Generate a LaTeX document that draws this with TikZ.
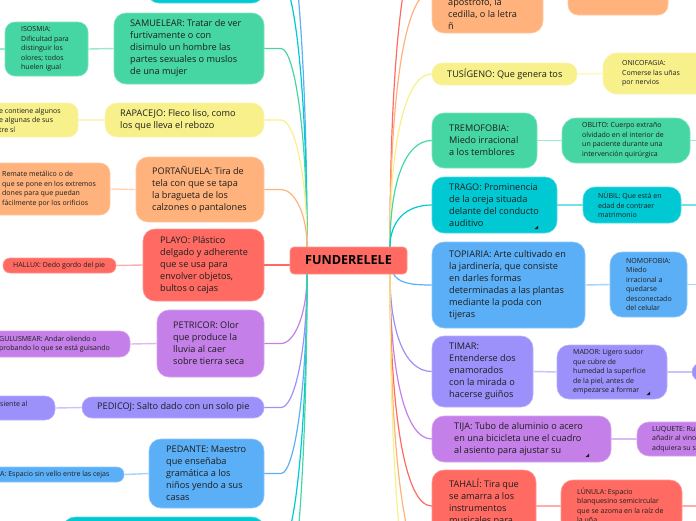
\documentclass[tikz,border=0pt]{standalone}
\usepackage{fontspec}
\setmainfont{Open Sans}
\definecolor{cred}{HTML}{FF6A62}
\definecolor{corange}{HTML}{FFB27B}
\definecolor{cyellow}{HTML}{F8F08A}
\definecolor{cgreen}{HTML}{45D6A4}
\definecolor{ccyan}{HTML}{00C9D3}
\definecolor{cblue}{HTML}{5BAFF6}
\definecolor{clav}{HTML}{9C90FA}
\definecolor{cpurple}{HTML}{C47FE8}
\definecolor{ink}{HTML}{1E1E1E}
\newcommand\mfont{\fontsize{9.15}{12}\selectfont}
\newcommand\sfont{\fontsize{7}{9.5}\selectfont}
\tikzset{
  nb/.style={fill=#1, draw=#1!70!white, line width=0.6pt},
  mbox/.style={rectangle, rounded corners=12pt, inner sep=0pt},
  sbox/.style={rectangle, rounded corners=10pt, inner sep=0pt},
  pill/.style={rectangle, rounded corners=7pt, inner sep=0pt},
  mtxt/.style={font=\mfont, text=ink, align=left, inner sep=0pt, anchor=west},
  stxt/.style={font=\sfont, text=ink, align=left, inner sep=0pt, anchor=west},
  lk/.style={draw=#1, line width=1.2pt},
  sk/.style={draw=#1!55!white, line width=1.4pt},
  grip/.style={fill=ink},
}
\begin{document}
\begin{tikzpicture}[x=1pt,y=-1pt]
\useasboundingbox (0,0) rectangle (696,520);
% ---------- boxes, left ----------
\node[mbox, nb=ccyan, minimum width=117pt, minimum height=46pt] (cyantl) at (205.5,-20) {};
\node[mbox, nb=cgreen, minimum width=150pt, minimum height=71pt] (samu) at (189,48.5) {};
\node[mbox, nb=cyellow, minimum width=159pt, minimum height=34pt] (rapa) at (184.5,120) {};
\node[mbox, nb=corange, minimum width=128pt, minimum height=65pt] (port) at (200,189.5) {};
\node[mbox, nb=cred, minimum width=121pt, minimum height=72pt] (playo) at (203.5,265) {};
\node[mbox, nb=cpurple, minimum width=107pt, minimum height=67pt] (petr) at (210.5,343.5) {};
\node[mbox, rounded corners=10pt, nb=clav, minimum width=182pt, minimum height=21pt] (pedi) at (173,407.5) {};
\node[mbox, nb=cblue, minimum width=115pt, minimum height=69pt] (peda) at (206.5,473.5) {};
\node[mbox, nb=ccyan, minimum width=201pt, minimum height=58pt] (cyanbl) at (163.5,546) {};
% children left
\node[sbox, nb=cgreen, minimum width=83pt, minimum height=54pt] (isos) at (46.5,49) {};
\node[sbox, nb=cyellow, minimum width=95pt, minimum height=34pt] (rapac) at (30.5,120) {};
\node[sbox, nb=corange, minimum width=130pt, minimum height=52pt] (portc) at (45,189) {};
\node[pill, nb=cred, minimum width=113pt, minimum height=15pt] (hallux) at (59.5,265.5) {};
\node[sbox, nb=cpurple, minimum width=150pt, minimum height=26pt] (gulu) at (55,344) {};
\node[sbox, nb=clav, minimum width=75pt, minimum height=24pt] (pedic) at (17.5,408) {};
\node[pill, nb=cblue, minimum width=144pt, minimum height=15pt] (pedac) at (52,474.5) {};
% ---------- boxes, right ----------
\node[mbox, nb=corange, minimum width=111pt, minimum height=83pt] (ortr) at (487.5,-8.5) {};
\node[sbox, nb=corange, minimum width=100pt, minimum height=45pt] (ortrc) at (618,-7.5) {};
\node[mbox, rounded corners=10pt, nb=cyellow, minimum width=145pt, minimum height=22pt] (tusi) at (504.5,74) {};
\node[sbox, rounded corners=14pt, nb=cyellow, minimum width=110pt, minimum height=41pt] (onic) at (658,73.5) {};
\node[mbox, nb=cgreen, minimum width=105pt, minimum height=55pt] (trem) at (484.5,140.5) {};
\node[sbox, rounded corners=14pt, nb=cgreen, minimum width=128pt, minimum height=45pt] (obli) at (626,140.5) {};
\node[mbox, nb=ccyan, minimum width=125pt, minimum height=56pt] (trago) at (494.5,205) {};
\node[sbox, rounded corners=12pt, nb=ccyan, minimum width=98pt, minimum height=36pt] (nubil) at (632,205) {};
\node[mbox, nb=cblue, minimum width=153pt, minimum height=86pt] (topi) at (508.5,285) {};
\node[sbox, rounded corners=12pt, nb=cblue, minimum width=77pt, minimum height=65pt] (nomo) at (648.5,284.5) {};
\node[mbox, nb=clav, minimum width=101pt, minimum height=71pt] (timar) at (482.5,371.5) {};
\node[sbox, rounded corners=12pt, nb=clav, minimum width=110pt, minimum height=54pt] (mador) at (612,372) {};
\node[pill, rounded corners=9pt, nb=clav, minimum width=30pt, minimum height=18pt] (madorc) at (707,372) {};
\node[mbox, nb=cpurple, minimum width=179pt, minimum height=46pt] (tija) at (521.5,439) {};
\node[sbox, rounded corners=12pt, nb=cpurple, minimum width=83pt, minimum height=34pt] (luqu) at (678.5,439) {};
\node[mbox, nb=cred, minimum width=104pt, minimum height=72pt] (taha) at (484,506) {};
\node[sbox, rounded corners=12pt, nb=cred, minimum width=121pt, minimum height=52pt] (lunu) at (621.5,506) {};
% ---------- free ends ----------
\coordinate (cTL) at (307,247);
\coordinate (cBL) at (307,274);
\coordinate (cTR) at (390,247);
\coordinate (cBR) at (390,274);
\coordinate (cBR2) at (393,273);
\coordinate (blueTL) at (264,-90);
\coordinate (greenBL) at (264,620);
\coordinate (redTR) at (432,-80);
\coordinate (orBR) at (432,575);
\coordinate (yeBR) at (432,650);
\coordinate (isosL) at (0,49);
\coordinate (oblR) at (696,140.5);
\coordinate (nubR) at (696,205);
\coordinate (nomR) at (696,284.5);
\coordinate (lunR) at (696,506);
% ---------- main connectors ----------
\draw[lk=cblue] (blueTL) -- (281,-90) .. controls (294,-90) and (307,45) .. (cTL);
\draw[lk=ccyan] (cyantl.east) -- (281,-20) .. controls (294,-20) and (307,87) .. (cTL);
\draw[lk=cgreen] (samu.east) -- (281,48.5) .. controls (294,48.5) and (307,128) .. (cTL);
\draw[lk=cyellow] (rapa.east) -- (281,120) .. controls (294,120) and (307,171) .. (cTL);
\draw[lk=corange] (port.east) -- (281,189.5) .. controls (294,189.5) and (307,212.5) .. (cTL);
\draw[lk=cred] (playo.east) -- (300,265);
\draw[lk=cpurple] (petr.east) -- (281,343.5) .. controls (294,343.5) and (307,315.7) .. (cBL);
\draw[lk=clav] (pedi.east) -- (281,407.5) .. controls (294,407.5) and (307,354) .. (cBL);
\draw[lk=cblue] (peda.east) -- (281,473.5) .. controls (294,473.5) and (307,393.7) .. (cBL);
\draw[lk=ccyan] (cyanbl.east) -- (281,546) .. controls (294,546) and (307,437) .. (cBL);
\draw[lk=cgreen] (greenBL) -- (281,620) .. controls (294,620) and (307,481.6) .. (cBL);
\draw[lk=cred] (cTR) .. controls (390,51) and (405,-80) .. (redTR);
\draw[lk=corange] (cTR) .. controls (390,93) and (405,-8.5) .. (ortr.west);
\draw[lk=cyellow] (cTR) .. controls (390,143) and (405,74) .. (tusi.west);
\draw[lk=cgreen] (cTR) .. controls (390,183) and (405,140.5) .. (trem.west);
\draw[lk=ccyan] (cTR) .. controls (390,222) and (405,205) .. (trago.west);
\draw[lk=cblue] (cBR2) .. controls (398,283) and (410,285) .. (topi.west);
\draw[lk=clav] (cBR) .. controls (390,332.5) and (405,371.5) .. (timar.west);
\draw[lk=cpurple] (cBR) .. controls (390,373) and (405,439) .. (tija.west);
\draw[lk=cred] (cBR) .. controls (390,413) and (405,506) .. (taha.west);
\draw[lk=corange] (cBR) .. controls (390,454.6) and (405,575) .. (orBR);
\draw[lk=cyellow] (cBR) .. controls (390,499.6) and (405,650) .. (yeBR);
% ---------- child connectors ----------
\draw[sk=cgreen] (isosL) -- (isos.west);
\draw[sk=cgreen] (isos.east) -- (samu.west);
\draw[sk=cyellow] (rapac.east) -- (rapa.west);
\draw[sk=corange] (portc.east) -- (port.west);
\draw[sk=cred] (hallux.east) -- (playo.west);
\draw[sk=cpurple] (gulu.east) -- (petr.west);
\draw[sk=clav] (pedic.east) -- (pedi.west);
\draw[sk=cblue] (pedac.east) -- (peda.west);
\draw[sk=cyellow] (tusi.east) -- (onic.west);
\draw[sk=cgreen] (trem.east) -- (obli.west);
\draw[sk=cgreen] (obli.east) -- (oblR);
\draw[sk=ccyan] (trago.east) -- (nubil.west);
\draw[sk=ccyan] (nubil.east) -- (nubR);
\draw[sk=cblue] (topi.east) -- (nomo.west);
\draw[sk=cblue] (nomo.east) -- (nomR);
\draw[sk=clav] (timar.east) -- (mador.west);
\draw[sk=clav] (mador.east) -- (madorc.west);
\draw[sk=cpurple] (tija.east) -- (luqu.west);
\draw[sk=cred] (taha.east) -- (lunu.west);
\draw[sk=cred] (lunu.east) -- (lunR);
% ---------- centre ----------
\node[rectangle, rounded corners=4pt, nb=cred, minimum width=117pt, minimum height=27pt, inner sep=0pt, font=\fontsize{12.6}{14}\selectfont\bfseries, text=black] (center) at (348.5,260.5) {FUNDERELELE};
% ---------- texts, left ----------
\node[mtxt] (samut) at (130,48.5) {SAMUELEAR: Tratar de ver\\furtivamente o con\\disimulo un hombre las\\partes sexuales o muslos\\de una mujer};
\node[mtxt] (rapat) at (120,120) {RAPACEJO: Fleco liso, como\\los que lleva el rebozo};
\node[mtxt] (portt) at (152,189.5) {PORTAÑUELA: Tira de\\tela con que se tapa\\la bragueta de los\\calzones o pantalones};
\node[mtxt] (playot) at (160,265) {PLAYO: Plástico\\delgado y adherente\\que se usa para\\envolver objetos,\\bultos o cajas};
\node[mtxt] (petrt) at (173,343.5) {PETRICOR: Olor\\que produce la\\lluvia al caer\\sobre tierra seca};
\node[mtxt] (pedit) at (97,407.5) {PEDICOJ: Salto dado con un solo pie};
\node[mtxt] (pedat) at (166,473.5) {PEDANTE: Maestro\\que enseñaba\\gramática a los\\niños yendo a sus\\casas};
\node[stxt] (isost) at (21,49) {ISOSMIA:\\Dificultad para\\distinguir los\\olores; todos\\huelen igual};
\node[stxt] (rapact) at (-1,120) {e contiene algunos\\e algunas de sus\\tre sí};
\node[stxt] (portct) at (2,189) {Remate metálico o de\\que se pone en los extremos\\dones para que puedan\\fácilmente por los orificios};
\node[stxt] (hallt) at (13,265.5) {HALLUX: Dedo gordo del pie};
\node[stxt] (gulut) at (-1,344) {GULUSMEAR: Andar oliendo o\\probando lo que se está guisando};
\node[stxt] (pedict) at (0,404) {siente al};
\node[stxt] (pedact) at (0,474.5) {A: Espacio sin vello entre las cejas};
% ---------- texts, right ----------
\node[mtxt, anchor=north west] (ortrt) at (448,-2) {apóstrofo, la\\cedilla, o la letra\\ñ};
\node[mtxt] (tusit) at (447,74) {TUSÍGENO: Que genera tos};
\node[stxt] (onict) at (622,73.5) {ONICOFAGIA:\\Comerse las uñas\\por nervios};
\node[mtxt] (tremt) at (449,140.5) {TREMOFOBIA:\\Miedo irracional\\a los temblores};
\node[stxt] (oblit) at (582,140.5) {OBLITO: Cuerpo extraño\\olvidado en el interior de\\un paciente durante una\\intervención quirúrgica};
\node[mtxt] (tragot) at (449,205) {TRAGO: Prominencia\\de la oreja situada\\delante del conducto\\auditivo};
\node[stxt] (nubilt) at (598,205) {NÚBIL: Que está en\\edad de contraer\\matrimonio};
\node[mtxt] (topit) at (449,285) {TOPIARIA: Arte cultivado en\\la jardinería, que consiste\\en darles formas\\determinadas a las plantas\\mediante la poda con\\tijeras};
\node[stxt] (nomot) at (626,284.5) {NOMOFOBIA:\\Miedo\\irracional a\\quedarse\\desconectado\\del celular};
\node[mtxt] (timart) at (449,371.5) {TIMAR:\\Entenderse dos\\enamorados\\con la mirada o\\hacerse guiños};
\node[stxt] (madort) at (573,372) {MADOR: Ligero sudor\\que cubre de\\humedad la superficie\\de la piel, antes de\\empezarse a formar};
\node[mtxt] (tijat) at (454,439) {TIJA: Tubo de aluminio o acero\\en una bicicleta une el cuadro\\al asiento para ajustar su};
\node[stxt] (luqut) at (652,439) {LUQUETE: Ru\\añadir al vino\\adquiera su s};
\node[mtxt, anchor=north west] (tahat) at (449,479) {TAHALÍ: Tira que\\se amarra a los\\instrumentos\\musicales para};
\node[stxt, anchor=north west] (lunut) at (577,487.5) {LÚNULA: Espacio\\blanquesino semicircular\\que se azoma en la raíz de\\la uña};
% ---------- resize grips ----------
\fill[grip] (538,229) -- (538,225.5) -- (534.5,229) -- cycle;
\fill[grip] (650,395) -- (650,391.5) -- (646.5,395) -- cycle;
\fill[grip] (589,457) -- (589,453.5) -- (585.5,457) -- cycle;
\end{tikzpicture}
\end{document}
